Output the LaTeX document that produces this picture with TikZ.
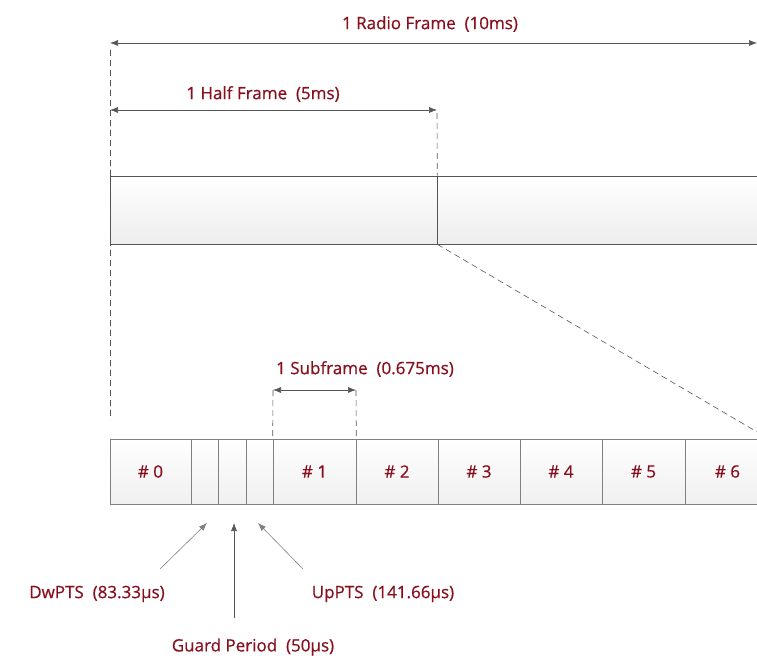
\documentclass[tikz,border=0pt]{standalone}
\usepackage{fontspec}
\setmainfont{Open Sans}
\newfontface\lblfont{Open Sans}[FakeBold=0.6]
\usetikzlibrary{arrows.meta}
\definecolor{labelred}{RGB}{135,15,30}
\definecolor{linegray}{RGB}{85,85,85}

\begin{document}
\begin{tikzpicture}[
  x=1pt, y=-1pt,
  every node/.style={font=\lblfont\fontsize{17}{20}\selectfont, text=labelred},
  dim/.style={{Latex[length=8pt,width=6pt]}-{Latex[length=8pt,width=6pt]}, linegray, semithick},
  guide/.style={linegray, semithick, dash pattern=on 6pt off 4pt},
  pointer/.style={-{Latex[length=8pt,width=6pt]}, gray, semithick},
  framebox/.style={draw=linegray, semithick, top color=white, bottom color=black!7, minimum height=68pt, inner sep=0pt},
  cell/.style={draw=gray, semithick, top color=white, bottom color=black!6, minimum height=65pt, inner sep=0pt}
]
\useasboundingbox (0,0) rectangle (757,660);
\clip (0,0) rectangle (757,660);

% Radio frame (two half frames)
\node[framebox, minimum width=327pt] (half1) at (273.5,210) {};
\node[framebox, minimum width=343pt] (half2) at (608.5,210) {};

% Subframes of one half frame
\foreach \a/\b/\n/\t in {110/191/c0/{\# 0}, 191/218/dw/{}, 218/246/gp/{}, 246/273/up/{},
    273/356/c1/{\# 1}, 356/438/c2/{\# 2}, 438/520/c3/{\# 3}, 520/602/c4/{\# 4},
    602/685/c5/{\# 5}, 685/770/c6/{\# 6}}
  \node[cell, minimum width={(\b-\a)*1pt}] (\n) at ({(\a+\b)/2},471.5) {\t};

% Dimension lines
\coordinate (rfL) at (110,43);
\coordinate (rfR) at (757,43);
\coordinate (hfL) at (110,110);
\coordinate (hfR) at (437,110);
\coordinate (sfL) at (273,390);
\coordinate (sfR) at (356,390);
\draw[dim] (rfL) -- (rfR);
\draw[dim] (hfL) -- (hfR);
\draw[dim] (sfL) -- (sfR);
\node (radio) at (430,24) {1 Radio Frame\ \ (10ms)};
\node (halflbl) at (263,94) {1 Half Frame\ \ (5ms)};
\node (sublbl) at (365,369) {1 Subframe\ \ (0.675ms)};

% Guide lines
\coordinate (gTop) at (110,50);
\coordinate (gBot) at (110,420);
\coordinate (hTop) at (437,113);
\coordinate (zoomR) at (770,439.5);
\draw[guide] (gTop) -- (gBot);
\draw[guide] (hTop) -- (half1.north east);
\draw[guide] (half1.south east) -- (zoomR);
\draw[guide] (sfL) -- (c1.north west);
\draw[guide] (sfR) -- (c1.north east);

% Special subframe fields
\coordinate (dwTip) at (207,523);
\coordinate (gpTip) at (234,523);
\coordinate (upTip) at (258,523);
\coordinate (dwTail) at (160,569);
\coordinate (gpTail) at (234,618);
\coordinate (upTail) at (303,569);
\draw[pointer] (dwTail) -- (dwTip);
\draw[pointer, linegray] (gpTail) -- (gpTip);
\draw[pointer] (upTail) -- (upTip);
\node (dwlbl) at (97,594) {DwPTS\ \ (83.33µs)};
\node (uplbl) at (383,594) {UpPTS\ \ (141.66µs)};
\node (gplbl) at (253,647) {Guard Period\ \ (50µs)};

\end{tikzpicture}
\end{document}
